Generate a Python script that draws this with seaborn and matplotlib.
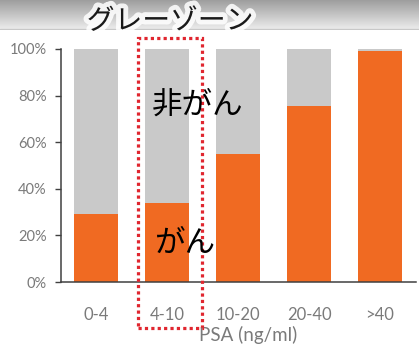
import numpy as np
import pandas as pd
import matplotlib
matplotlib.use("Agg")
import matplotlib.pyplot as plt
import matplotlib.patheffects as pe
from matplotlib.patches import Rectangle
from matplotlib.ticker import PercentFormatter
import seaborn as sns

# PSA ranges and share of cancer cases in each range
categories = ["0-4", "4-10", "10-20", "20-40", ">40"]
cancer_share = [0.29, 0.34, 0.55, 0.755, 0.99]
total_share = [1.0, 1.0, 1.0, 1.0, 1.0]
y_ticks = [0.0, 0.2, 0.4, 0.6, 0.8, 1.0]

sns.set_theme(style="white")
plt.rcParams["font.family"] = ["Lato", "Noto Sans CJK JP", "DejaVu Sans"]

GRAY = "#c9c9c9"
ORANGE = "#f06a22"
TICK = "#7a7a7a"

W, H = 419, 347
fig = plt.figure(figsize=(W / 100, H / 100), dpi=100)
fig.patch.set_facecolor("white")

# shaded header band
band = fig.add_axes([0, (H - 30) / H, 1, 30 / H])
grad = np.linspace(0.62, 0.93, 64)[:, None] * np.ones((1, 8))
band.imshow(grad, cmap="gray", vmin=0, vmax=1, aspect="auto", extent=[0, 1, 1, 0])
band.axhline(0.97, color="#c8c8c8", lw=1)
band.set_axis_off()

df = pd.DataFrame({"PSA": categories, "total": total_share, "cancer": cancer_share})

ax = fig.add_axes([60.5 / W, (H - 282) / H, 355 / W, 233 / H])
sns.barplot(data=df, x="PSA", y="total", color=GRAY, width=0.62, saturation=1,
            linewidth=0, ax=ax)
sns.barplot(data=df, x="PSA", y="cancer", color=ORANGE, width=0.62, saturation=1,
            linewidth=0, ax=ax)

ax.set_xlim(-0.5, 4.5)
ax.set_ylim(0, 1.0)
ax.set_yticks(y_ticks)
ax.yaxis.set_major_formatter(PercentFormatter(1.0, decimals=0))
ax.set_xlabel("")
ax.set_ylabel("")
for side in ["top", "right"]:
    ax.spines[side].set_visible(False)
for side in ["left", "bottom"]:
    ax.spines[side].set_color("#404040")
    ax.spines[side].set_linewidth(1.1)
ax.tick_params(axis="y", which="major", left=True, length=4, width=1, color="#404040",
               pad=6, labelsize=10.5, labelcolor=TICK)
ax.tick_params(axis="x", which="major", bottom=False, pad=12, labelsize=12, labelcolor=TICK)
ax.patch.set_alpha(0)

fig.text(248 / W, 1 - 335 / H, "PSA (ng/ml)", ha="center", va="center",
         fontsize=13.5, color=TICK)

# gray-zone frame around the 4-10 range
fig.patches.append(Rectangle((138 / W, 1 - 328 / H), 64 / W, 290 / H,
                             transform=fig.transFigure, fill=False,
                             edgecolor="#e0262f", lw=2.3, linestyle=(0, (1, 1)),
                             zorder=5))

jp = ["Noto Sans CJK JP", "DejaVu Sans"]
fig.text(170 / W, 1 - 21 / H, "グレーゾーン", ha="center", va="center", fontsize=20,
         family=jp, color="#1a1a1a", zorder=6,
         path_effects=[pe.withStroke(linewidth=7, foreground="white", alpha=0.85)])
fig.text(198 / W, 1 - 105 / H, "非がん", ha="center", va="center", fontsize=22,
         family=jp, color="black", zorder=6)
fig.text(185 / W, 1 - 243 / H, "がん", ha="center", va="center", fontsize=22,
         family=jp, color="black", zorder=6)

fig.savefig("out.png", dpi=100)
